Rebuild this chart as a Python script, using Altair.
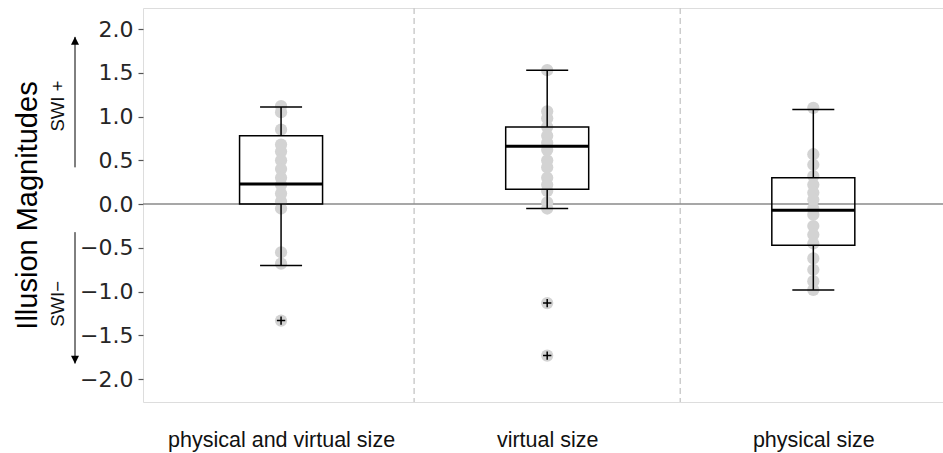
import json
import altair as alt
import pandas as pd

# ---- data ----
categories = ["physical and virtual size", "virtual size", "physical size"]

pts_phys_virt = [1.12, 1.05, 0.85, 0.68, 0.60, 0.50, 0.40, 0.30, 0.22, 0.12, 0.03, -0.05, -0.55, -0.68, -1.33]
pts_virt = [1.53, 1.06, 0.98, 0.88, 0.78, 0.70, 0.62, 0.50, 0.42, 0.30, 0.22, 0.15, 0.02, -0.05, -1.13, -1.73]
pts_phys = [1.10, 0.57, 0.45, 0.32, 0.22, 0.13, 0.05, -0.05, -0.12, -0.25, -0.35, -0.45, -0.62, -0.75, -0.88, -0.98]

lower_whisker = [-0.70, -0.05, -0.98]
q1 = [0.00, 0.17, -0.47]
median = [0.23, 0.66, -0.07]
q3 = [0.78, 0.88, 0.30]
upper_whisker = [1.11, 1.53, 1.08]

outlier_pos = [0, 1, 1]
outlier_val = [-1.33, -1.13, -1.73]

dividers = [0.5, 1.5]
zero_line = [0.0]
y_ticks = [-2.0, -1.5, -1.0, -0.5, 0.0, 0.5, 1.0, 1.5, 2.0]
x_ticks = [0, 1, 2]

arrow_up = [0.42, 1.91]
arrow_down = [-0.32, -1.82]
swi_labels = ["SWI +", "SWI\u2212"]
swi_pos = [1.12, -1.14]

# ---- tables ----
pts = pd.DataFrame(
    {"pos": [0] * len(pts_phys_virt) + [1] * len(pts_virt) + [2] * len(pts_phys),
     "val": pts_phys_virt + pts_virt + pts_phys}
)
box = pd.DataFrame({"pos": x_ticks, "lw": lower_whisker, "q1": q1, "med": median,
                    "q3": q3, "uw": upper_whisker})
outl = pd.DataFrame({"pos": outlier_pos, "val": outlier_val})
divs = pd.DataFrame({"d": dividers})
zero = pd.DataFrame({"z": zero_line})
arr = pd.DataFrame({"y1": [arrow_up[0], arrow_down[0]], "y2": [arrow_up[1], arrow_down[1]]})
heads = pd.DataFrame({"y": [arrow_up[1], arrow_down[1]], "dir": ["up", "down"]})
swi = pd.DataFrame({"t": swi_labels, "y": swi_pos})

label_expr = f"{json.dumps(categories)}[datum.value]"

xs = alt.Scale(domain=[-0.5, 2.4685], nice=False, zero=False)
ys = alt.Scale(domain=[-2.26, 2.24], nice=False, zero=False)

X = alt.X("pos:Q", scale=xs, axis=alt.Axis(
    values=x_ticks, labelExpr=label_expr, ticks=False, domain=False, grid=False,
    labelFont="Liberation Sans", labelFontSize=21.5, labelColor="#111111",
    labelPadding=27, title=None, labelFlush=False, labelLimit=0, labelOverlap=False))
Y = alt.Y("val:Q", scale=ys, axis=alt.Axis(
    values=y_ticks, format=".1f", grid=False, domain=False, tickSize=5,
    tickColor="#555555", tickWidth=1.2, labelFont="DejaVu Sans", labelFontSize=22,
    labelColor="#262626", labelPadding=5, title="Illusion Magnitudes",
    titleFont="Liberation Sans", titleFontSize=29, titleFontWeight="normal",
    titleColor="#000000", titlePadding=37))

base_pts = alt.Chart(pts)

div_layer = alt.Chart(divs).mark_rule(color="#cccccc", strokeDash=[6, 4], strokeWidth=1.5).encode(
    x=alt.X("d:Q", scale=xs))
zero_layer = alt.Chart(zero).mark_rule(color="#8a8a8a", strokeWidth=1.5).encode(
    y=alt.Y("z:Q", scale=ys))
pt_layer = base_pts.mark_circle(size=150, color="#d3d3d3", opacity=1).encode(x=X, y=Y)

bb = alt.Chart(box)
box_layer = bb.mark_bar(size=83, fillOpacity=0, stroke="black", strokeWidth=1.5).encode(
    x=alt.X("pos:Q", scale=xs), y=alt.Y("q1:Q", scale=ys), y2="q3:Q")
wl = bb.mark_rule(color="black", strokeWidth=1.5).encode(
    x=alt.X("pos:Q", scale=xs), y=alt.Y("lw:Q", scale=ys), y2="q1:Q")
wu = bb.mark_rule(color="black", strokeWidth=1.5).encode(
    x=alt.X("pos:Q", scale=xs), y=alt.Y("q3:Q", scale=ys), y2="uw:Q")
cap_l = bb.mark_tick(orient="horizontal", size=42, thickness=1.5, color="black", opacity=1).encode(
    x=alt.X("pos:Q", scale=xs), y=alt.Y("lw:Q", scale=ys))
cap_u = bb.mark_tick(orient="horizontal", size=42, thickness=1.5, color="black", opacity=1).encode(
    x=alt.X("pos:Q", scale=xs), y=alt.Y("uw:Q", scale=ys))
med_layer = bb.mark_tick(orient="horizontal", size=83, thickness=3, color="black", opacity=1).encode(
    x=alt.X("pos:Q", scale=xs), y=alt.Y("med:Q", scale=ys))

out_layer = alt.Chart(outl).mark_point(shape="M-1,0L1,0M0,-1L0,1", size=70, filled=False,
                                       color="black", strokeWidth=1.5, opacity=1).encode(
    x=alt.X("pos:Q", scale=xs), y=alt.Y("val:Q", scale=ys))

arrow_layer = alt.Chart(arr).mark_rule(color="black", strokeWidth=1).encode(
    x=alt.value(-68), y=alt.Y("y1:Q", scale=ys), y2="y2:Q")
head_up = alt.Chart(heads).transform_filter("datum.dir == 'up'").mark_point(
    shape="M0,-1L0.7,0.4L-0.7,0.4Z", size=130, filled=True, color="black", opacity=1, yOffset=5.5).encode(
    x=alt.value(-68), y=alt.Y("y:Q", scale=ys))
head_down = alt.Chart(heads).transform_filter("datum.dir == 'down'").mark_point(
    shape="M0,1L0.7,-0.4L-0.7,-0.4Z", size=130, filled=True, color="black", opacity=1, yOffset=-5.5).encode(
    x=alt.value(-68), y=alt.Y("y:Q", scale=ys))
swi_layer = alt.Chart(swi).mark_text(angle=270, font="Liberation Sans", fontSize=18.5,
                                     color="#111111", baseline="middle", align="center").encode(
    x=alt.value(-85), y=alt.Y("y:Q", scale=ys), text="t:N")

chart = alt.layer(
    div_layer, zero_layer, pt_layer, box_layer, wl, wu, cap_l, cap_u, med_layer, out_layer,
    arrow_layer, head_up, head_down, swi_layer
).properties(
    width=800, height=394,
    autosize=alt.AutoSizeParams(type="none"),
    padding={"left": 143, "top": 8, "right": 0, "bottom": 51},
).configure_view(stroke="#555555", strokeWidth=1.5).configure(background="white")

chart.save("out.html", embed_options={"renderer": "svg", "actions": False})
